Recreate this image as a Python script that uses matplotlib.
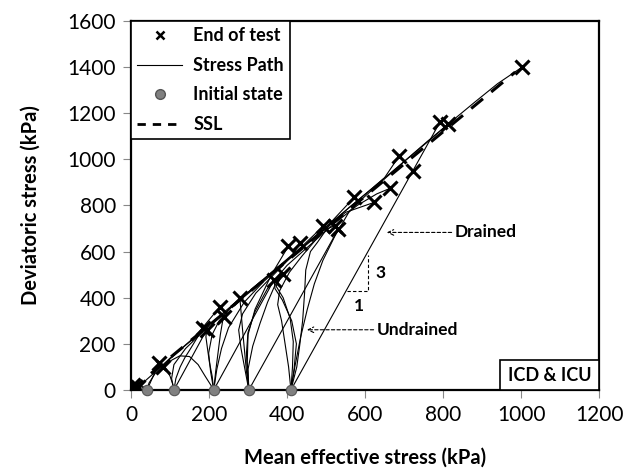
import matplotlib.pyplot as plt
from matplotlib.lines import Line2D
from matplotlib.patches import Rectangle

plt.rcParams['font.family'] = ['Lato', 'DejaVu Sans']

# initial states (p', q) in kPa
init_p = [41, 110, 212, 302, 410]
init_q = [0, 0, 0, 0, 0]

# end of test points
end_p = [5, 18, 72, 82, 185, 194, 228, 238, 279, 367, 390, 403, 433,
         492, 523, 531, 572, 623, 664, 687, 723, 792, 813, 1003]
end_q = [20, 12, 118, 100, 268, 261, 361, 318, 400, 478, 504, 622, 639,
         709, 713, 696, 835, 813, 874, 1013, 948, 1161, 1152, 1400]

# drained paths (straight, slope 3)
drained_start = [41, 110, 212, 302, 410]
drained_end_p = [72, 194, 367, 531, 792]
drained_end_q = [118, 261, 478, 696, 1161]

# undrained stress paths
undrained_p = [
    [41, 35, 25, 18],
    [41, 30, 14, 5],
    [110, 106, 100, 92, 82],
    [212, 205, 190, 172, 150, 125, 105, 90, 80],
    [110, 115, 126, 138, 150, 168, 185],
    [212, 208, 201, 196, 192, 194],
    [212, 217, 223, 229, 235, 238],
    [212, 204, 199, 208, 226, 258, 298, 345, 395, 440, 492],
    [302, 296, 291, 286, 282, 279],
    [302, 300, 312, 331, 350, 368, 390],
    [302, 292, 282, 276, 286, 320, 360, 395, 420, 433],
    [410, 418, 424, 412, 388, 369, 367],
    [410, 414, 416, 408, 390, 372, 390],
    [410, 425, 433, 440, 445, 448, 460, 478, 510, 560, 610, 650, 687],
    [410, 404, 395, 386, 376, 381, 406, 438, 468, 492, 523],
    [410, 420, 435, 452, 470, 492, 522, 560, 600, 650, 700, 760, 820, 880, 940, 1003],
    [41, 46, 62, 92, 140, 200, 260, 320, 380, 440, 500, 572],
    [110, 104, 110, 140, 190, 250, 310, 370, 430, 490, 550, 623],
    [302, 298, 296, 300, 318, 350, 400, 460, 520, 580, 630, 664],
    [212, 220, 232, 250, 290, 340, 400, 460, 520, 580, 640, 700, 760, 813],
    [0, 30, 60, 100, 160, 228],
    [302, 298, 300, 318, 360, 403],
]
undrained_q = [
    [0, 8, 14, 12],
    [0, 16, 22, 20],
    [0, 30, 60, 85, 100],
    [0, 20, 60, 110, 145, 148, 130, 112, 102],
    [0, 50, 100, 140, 172, 222, 268],
    [0, 60, 120, 180, 230, 261],
    [0, 80, 160, 240, 300, 318],
    [0, 80, 160, 240, 300, 362, 420, 488, 560, 625, 709],
    [0, 80, 170, 260, 340, 400],
    [0, 90, 190, 290, 380, 450, 504],
    [0, 90, 180, 260, 330, 420, 490, 550, 600, 639],
    [0, 90, 200, 300, 390, 440, 478],
    [0, 100, 210, 310, 400, 450, 504],
    [0, 100, 200, 300, 420, 520, 600, 640, 718, 792, 862, 920, 1013],
    [0, 100, 200, 300, 370, 430, 510, 580, 640, 690, 713],
    [0, 100, 230, 350, 460, 562, 665, 775, 840, 915, 990, 1078, 1162, 1246, 1328, 1400],
    [0, 30, 72, 122, 196, 282, 368, 452, 536, 620, 704, 835],
    [0, 50, 110, 180, 262, 348, 432, 518, 602, 686, 770, 813],
    [0, 80, 160, 250, 340, 440, 540, 630, 720, 800, 850, 874],
    [0, 90, 180, 270, 380, 470, 560, 650, 735, 820, 905, 990, 1075, 1152],
    [0, 30, 75, 138, 222, 361],
    [0, 120, 240, 350, 500, 622],
]

# steady state line
ssl_p = [0, 985]
ssl_q = [0, 1378]

fig = plt.figure(figsize=(6.37, 4.75), dpi=100)
ax = fig.add_axes([0.2057, 0.179, 0.7347, 0.777])

for p, q in zip(undrained_p, undrained_q):
    ax.plot(p, q, color='black', lw=0.8, zorder=2)
for p0, p1, q1 in zip(drained_start, drained_end_p, drained_end_q):
    ax.plot([p0, p1], [0, q1], color='black', lw=0.8, zorder=2)

ax.plot(ssl_p, ssl_q, color='black', lw=2.2, dashes=(5, 3.5), zorder=3)
ax.plot(end_p, end_q, 'x', color='black', ms=10, mew=2.2, zorder=4)
ax.plot(init_p, init_q, 'o', color='#808080', mec='#555555', ms=7.5,
        mew=0.8, zorder=5, clip_on=False)

ax.set_xlim(0, 1200)
ax.set_ylim(0, 1600)
ax.set_xticks(range(0, 1201, 200))
ax.set_yticks(range(0, 1601, 200))
ax.tick_params(direction='out', length=6, color='#888888', labelsize=15,
               pad=5)
for s in ax.spines.values():
    s.set_linewidth(1.6)
    s.set_color('black')

ax.set_xlabel('Mean effective stress (kPa)', fontsize=14.5, fontweight='bold',
              labelpad=16)
ax.set_ylabel('Deviatoric stress (kPa)', fontsize=14.5, fontweight='bold',
              labelpad=19)

# annotations
ax.annotate('', xy=(656, 683), xytext=(822, 683),
            arrowprops=dict(arrowstyle='->', lw=0.8, ls=(0, (3, 2)),
                            color='black', shrinkA=0, shrinkB=0))
ax.text(830, 683, 'Drained', fontsize=12.5, fontweight='bold', va='center')
ax.annotate('', xy=(451, 261), xytext=(622, 261),
            arrowprops=dict(arrowstyle='->', lw=0.8, ls=(0, (3, 2)),
                            color='black', shrinkA=0, shrinkB=0))
ax.text(630, 261, 'Undrained', fontsize=12.5, fontweight='bold', va='center')

ax.plot([555, 607, 607], [430, 430, 583], color='black', lw=0.8,
        ls=(0, (3, 2)))
ax.text(628, 505, '3', fontsize=12.5, fontweight='bold', va='center')
ax.text(572, 362, '1', fontsize=12.5, fontweight='bold', va='center')

ax.add_patch(Rectangle((0.788, 0.0), 0.212, 0.081, transform=ax.transAxes,
                       fill=True, facecolor='white', edgecolor='black',
                       lw=1.2, zorder=6))
ax.text(0.894, 0.04, 'ICD & ICU', transform=ax.transAxes, fontsize=13,
        fontweight='bold', ha='center', va='center', zorder=7)

handles = [
    Line2D([], [], ls='none', marker='x', color='black', ms=6, mew=1.8),
    Line2D([], [], color='black', lw=0.8),
    Line2D([], [], ls='none', marker='o', color='#808080', mec='#555555',
           ms=7),
    Line2D([], [], color='black', lw=2, dashes=(3, 2.5)),
]
labels = ['End of test', 'Stress Path', 'Initial state', 'SSL']
leg = ax.legend(handles, labels, loc='upper left', borderaxespad=0,
                fancybox=False, edgecolor='black', framealpha=1,
                prop={'weight': 'bold', 'size': 13}, handlelength=2.5,
                handletextpad=0.6, labelspacing=0.7, borderpad=0.35)
leg.get_frame().set_linewidth(1.2)
leg.set_zorder(8)

fig.savefig('out.png', dpi=100)
